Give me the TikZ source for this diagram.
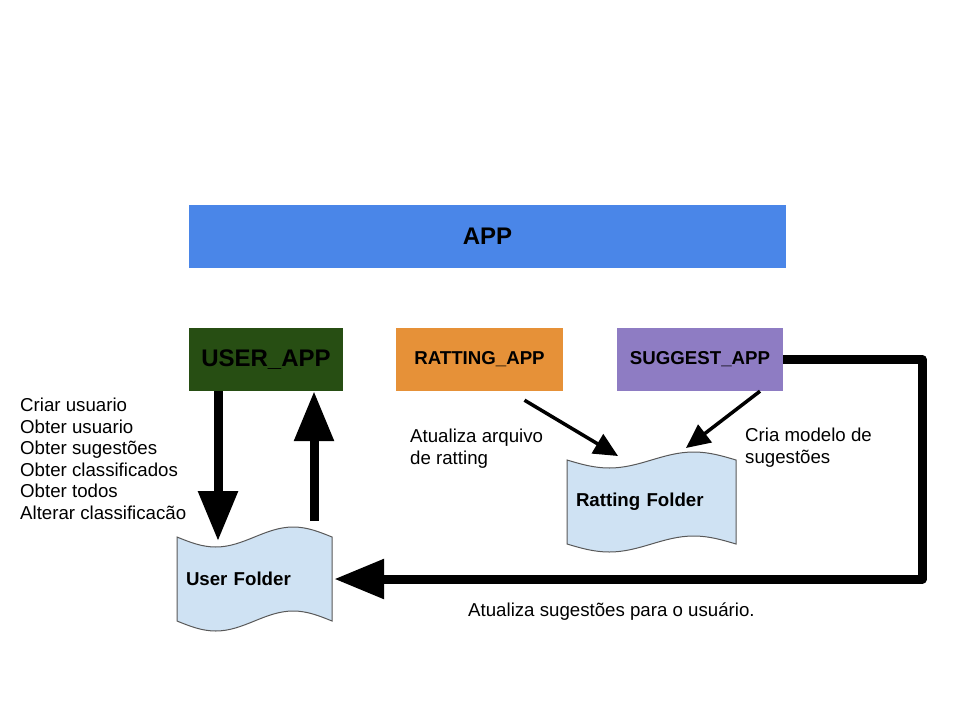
\documentclass[tikz,border=0pt]{standalone}
\usepackage{fontspec}
\setmainfont{Liberation Sans}
\usetikzlibrary{positioning,arrows.meta}
\definecolor{appblue}{HTML}{4A86E8}
\definecolor{usergreen}{HTML}{274E13}
\definecolor{ratorange}{HTML}{E69138}
\definecolor{sugpurple}{HTML}{8E7CC3}
\definecolor{folderblue}{HTML}{CFE2F3}
\definecolor{folderline}{HTML}{595959}
\tikzset{>={Triangle[length=50pt,width=38pt]}}
\tikzset{
  box/.style={minimum height=63pt,inner sep=0pt,font=\fontsize{18.67}{22}\bfseries},
  bigbox/.style={box,font=\fontsize{24}{28}\bfseries},
  folder/.style={draw=folderline,fill=folderblue,line width=1pt},
  foldertext/.style={inner xsep=9pt,inner ysep=0pt,align=left,font=\fontsize{18.67}{22}\bfseries},
  fat/.style={line width=9pt,->},
  slim/.style={line width=3.5pt,-{Triangle[length=24pt,width=22pt]}},
  txt/.style={inner sep=0pt,align=left,font=\fontsize{18.67}{21.5}\selectfont},
}
% punched tape folder: name, left x, top y, width, wave, text
\newcommand{\folder}[6]{%
  \draw[folder] (#2,#3) sin ++({#4/4},#5) cos ++({#4/4},-#5) sin ++({#4/4},-#5) cos ++({#4/4},#5)
    -- ++(0,84) sin ++({-#4/4},-#5) cos ++({-#4/4},#5) sin ++({-#4/4},#5) cos ++({-#4/4},-#5) -- cycle;
  \node[foldertext,text width={(#4-18)*1pt},minimum height=84pt] (#1) at ({#2+#4/2},{#3+42}) {#6};}

\begin{document}
\begin{tikzpicture}[x=1pt,y=-1pt]
\useasboundingbox[fill=white] (0,0) rectangle (960,720);
\node[bigbox,fill=appblue,minimum width=597pt] (app) at (487.5,236.5) {APP};
\node[bigbox,fill=usergreen,minimum width=154pt] (user) at (266,359.5) {USER\_APP};
\node[box,fill=ratorange,minimum width=167pt] (rat) at (479.5,359.5) {RATTING\_APP};
\node[box,fill=sugpurple,minimum width=166pt] (sug) at (700,359.5) {SUGGEST\_APP};
\folder{uf}{177}{537}{155}{10}{User Folder}
\folder{rf}{567}{460}{169}{8}{Ratting Folder}
% labels
\node[txt,anchor=north west] (ops) at (20,398) {Criar usuario\\Obter usuario\\Obter sugestões\\Obter classificados\\Obter todos\\Alterar classificacão};
\node[txt,anchor=north west] (ratlbl) at (410,429) {Atualiza arquivo\\de ratting};
\node[txt,anchor=north west] (suglbl) at (745,428) {Cria modelo de\\sugestões};
\node[txt,anchor=base west] (updlbl) at (468,616) {Atualiza sugestões para o usuário.};
% arrows
\draw[fat] ([xshift=-48pt]user.south) -- ([xshift=-36.5pt,yshift=38pt]uf.center);
\draw[fat] ([xshift=59.5pt,yshift=58pt]uf.center) -- ([xshift=48pt]user.south);
\draw[fat,line join=round] (sug.east) -- ++(139,0) |- ([xshift=2pt]uf.east);
\draw[slim] ([xshift=45pt,yshift=-9pt]rat.south) -- ([xshift=-33.5pt,yshift=46pt]rf.center);
\draw[slim] ([xshift=60pt]sug.south) -- ([xshift=34.5pt,yshift=54pt]rf.center);
\end{tikzpicture}
\end{document}
